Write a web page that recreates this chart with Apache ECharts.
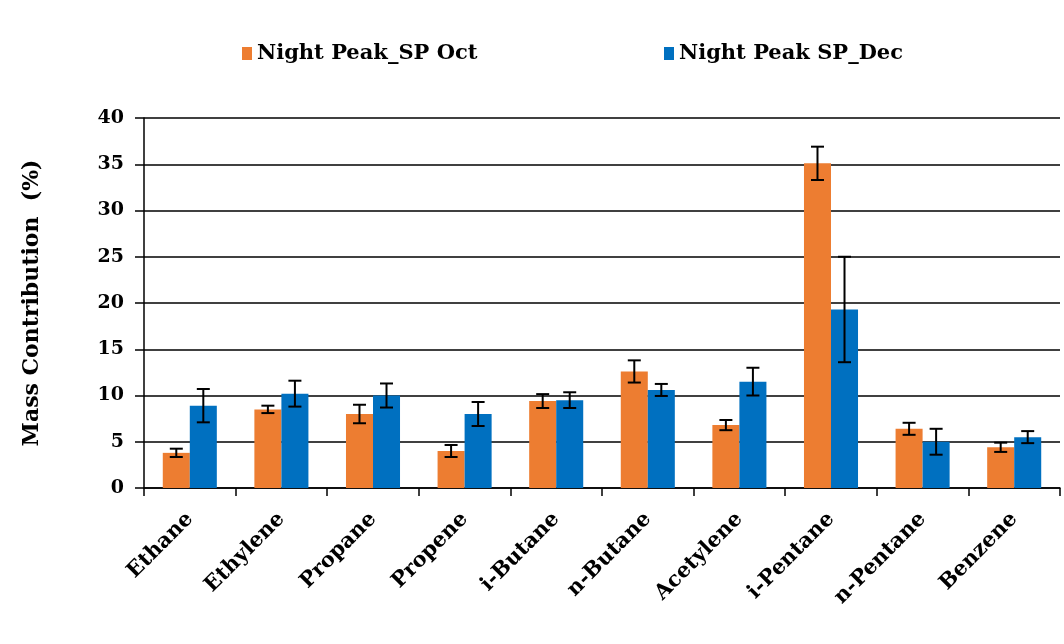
<!DOCTYPE html>
<html><head><meta charset="utf-8">
<script src="https://cdn.jsdelivr.net/npm/echarts@6/dist/echarts.min.js"></script>
<style>html,body{margin:0;padding:0;background:#fff}#c{width:1064px;height:644px}</style>
</head><body><div id="c"></div>
<script>
const categories = ['Ethane','Ethylene','Propane','Propene','i-Butane','n-Butane','Acetylene','i-Pentane','n-Pentane','Benzene'];
const octValues = [3.8, 8.5, 8.0, 4.0, 9.4, 12.6, 6.8, 35.1, 6.4, 4.4];
const octErrors = [0.45, 0.4, 1.0, 0.65, 0.75, 1.2, 0.55, 1.8, 0.65, 0.5];
const decValues = [8.9, 10.2, 10.0, 8.0, 9.5, 10.6, 11.5, 19.3, 5.0, 5.5];
const decErrors = [1.8, 1.4, 1.3, 1.3, 0.85, 0.65, 1.5, 5.7, 1.4, 0.65];
const yTicks = [0, 5, 10, 15, 20, 25, 30, 35, 40];
const seriesNames = ['Night Peak_SP Oct', 'Night Peak SP_Dec'];

const BAR_FRAC = 0.295;
const font = '"DejaVu Serif", serif';

function errData(vals, errs){ return vals.map((v,i)=>[i, v-errs[i], v+errs[i]]); }
function errSeries(vals, errs, side){
  return {
    type:'custom', silent:true, z:5,
    data: errData(vals, errs),
    encode:{x:0, y:[1,2]},
    renderItem:function(params, api){
      const bw = api.size([1,0])[0]*BAR_FRAC;
      const lo = api.coord([api.value(0), api.value(1)]);
      const hi = api.coord([api.value(0), api.value(2)]);
      const x = lo[0] + side*bw/2;
      const cap = 6.5;
      const st = {stroke:'#000', lineWidth:2};
      return {type:'group', children:[
        {type:'line', shape:{x1:x,y1:lo[1],x2:x,y2:hi[1]}, style:st},
        {type:'line', shape:{x1:x-cap,y1:lo[1],x2:x+cap,y2:lo[1]}, style:st},
        {type:'line', shape:{x1:x-cap,y1:hi[1],x2:x+cap,y2:hi[1]}, style:st}
      ]};
    }
  };
}

const legendText = {fontFamily:font, fontWeight:'bold', fontSize:21, color:'#000'};
const chart = echarts.init(document.getElementById('c'));
chart.setOption({
  animation:false,
  backgroundColor:'#fff',
  legend:[
    {data:[seriesNames[0]], left:242, top:43, padding:0, itemWidth:10, itemHeight:13, itemGap:6, icon:'rect', textStyle:legendText},
    {data:[seriesNames[1]], left:664, top:43, padding:0, itemWidth:10, itemHeight:13, itemGap:6, icon:'rect', textStyle:legendText}
  ],
  grid:{left:144, right:4, top:118, bottom:156, containLabel:false},
  xAxis:{
    type:'category', data:categories,
    axisLine:{lineStyle:{color:'#000', width:1.5}},
    axisTick:{show:true, alignWithLabel:false, length:8, lineStyle:{color:'#000', width:1.5}},
    axisLabel:{rotate:45, interval:0, margin:28, fontFamily:font, fontWeight:'bold', fontSize:21, color:'#000'},
    splitLine:{show:false}
  },
  yAxis:{
    type:'value', min:0, max:40, interval:5,
    name:'Mass Contribution  (%)', nameLocation:'middle', nameGap:101, nameRotate:90,
    nameTextStyle:{fontFamily:font, fontWeight:'bold', fontSize:22, color:'#000'},
    axisLine:{show:true, lineStyle:{color:'#000', width:1.5}},
    axisTick:{show:true, length:9, lineStyle:{color:'#000', width:1.5}},
    axisLabel:{margin:20, fontFamily:font, fontWeight:'bold', fontSize:19, color:'#000'},
    splitLine:{show:true, lineStyle:{color:'#000', width:1.5}}
  },
  series:[
    {name:seriesNames[0], type:'bar', data:octValues, barWidth:(BAR_FRAC*100)+'%', barGap:'0%', itemStyle:{color:'#ED7D31'}},
    {name:seriesNames[1], type:'bar', data:decValues, barWidth:(BAR_FRAC*100)+'%', barGap:'0%', itemStyle:{color:'#0070C0'}},
    errSeries(octValues, octErrors, -1),
    errSeries(decValues, decErrors, 1)
  ]
});
</script></body></html>
